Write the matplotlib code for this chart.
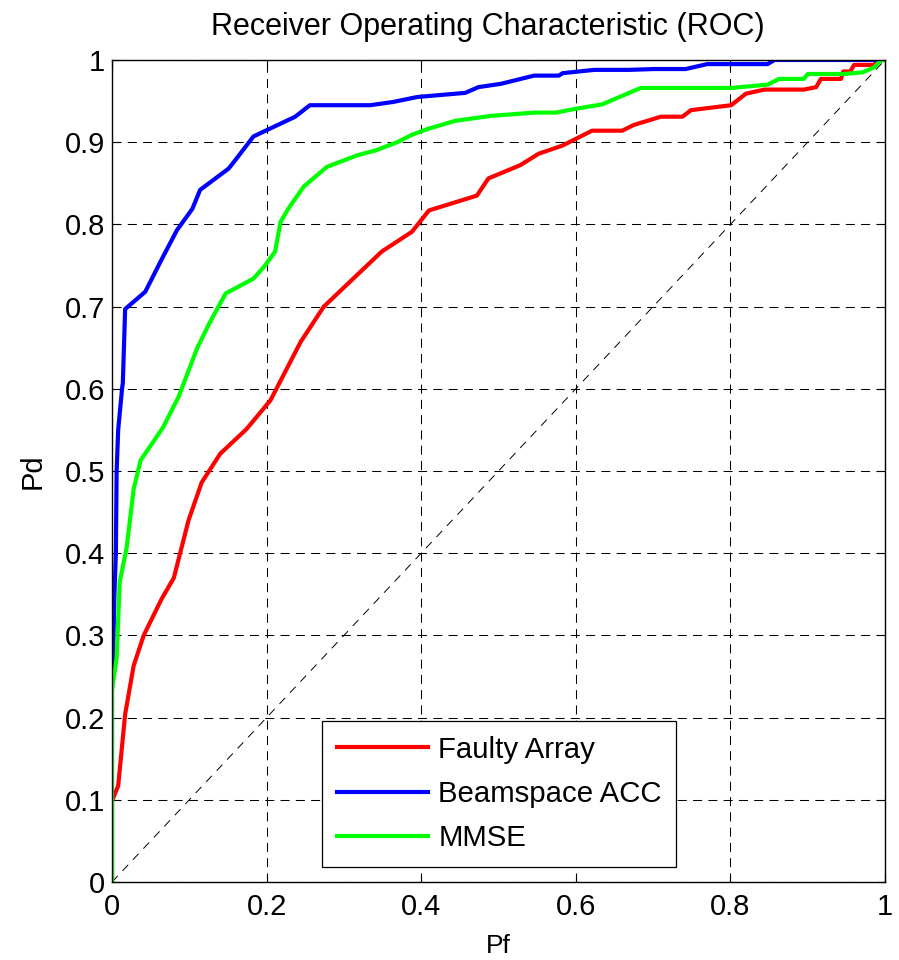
import numpy as np
import matplotlib
matplotlib.use("Agg")
import matplotlib.pyplot as plt

# ROC curves (Pf, Pd)
faulty_pf = [0, 0, 0.001, 0.008, 0.017, 0.028, 0.041, 0.064, 0.080, 0.099, 0.116, 0.140,
             0.174, 0.205, 0.244, 0.274, 0.349, 0.388, 0.410, 0.472, 0.487, 0.528, 0.552,
             0.583, 0.621, 0.660, 0.675, 0.710, 0.738, 0.749, 0.801, 0.820, 0.844, 0.895,
             0.911, 0.917, 0.943, 0.946, 0.955, 0.960, 0.985, 0.995, 1.0]
faulty_pd = [0, 0.10, 0.101, 0.117, 0.204, 0.263, 0.300, 0.344, 0.370, 0.440, 0.486, 0.521,
             0.551, 0.586, 0.657, 0.700, 0.767, 0.791, 0.817, 0.835, 0.856, 0.872, 0.886,
             0.896, 0.914, 0.914, 0.921, 0.931, 0.931, 0.939, 0.945, 0.959, 0.964, 0.964,
             0.967, 0.977, 0.977, 0.986, 0.986, 0.994, 0.994, 1.0, 1.0]

beam_pf = [0, 0, 0.002, 0.003, 0.005, 0.006, 0.008, 0.013, 0.014, 0.017, 0.043, 0.064,
           0.084, 0.104, 0.114, 0.151, 0.161, 0.183, 0.237, 0.256, 0.334, 0.364, 0.395,
           0.457, 0.474, 0.503, 0.546, 0.578, 0.583, 0.624, 0.669, 0.701, 0.742, 0.770,
           0.848, 0.857, 1.0]
beam_pd = [0, 0.24, 0.30, 0.346, 0.40, 0.50, 0.55, 0.60, 0.607, 0.697, 0.718, 0.757,
           0.793, 0.819, 0.842, 0.868, 0.880, 0.907, 0.931, 0.945, 0.945, 0.949, 0.955,
           0.960, 0.967, 0.971, 0.981, 0.981, 0.984, 0.988, 0.988, 0.989, 0.989, 0.995,
           0.995, 1.0, 1.0]

mmse_pf = [0, 0, 0.006, 0.010, 0.019, 0.028, 0.037, 0.066, 0.086, 0.110, 0.125, 0.147,
           0.183, 0.198, 0.211, 0.218, 0.228, 0.248, 0.278, 0.317, 0.341, 0.369, 0.388,
           0.408, 0.444, 0.490, 0.546, 0.574, 0.602, 0.634, 0.684, 0.801, 0.848, 0.863,
           0.895, 0.900, 0.947, 0.971, 0.986, 0.995, 1.0]
mmse_pd = [0, 0.233, 0.273, 0.365, 0.407, 0.478, 0.513, 0.553, 0.590, 0.649, 0.678, 0.716,
           0.734, 0.750, 0.767, 0.803, 0.819, 0.846, 0.870, 0.884, 0.890, 0.900, 0.909,
           0.916, 0.926, 0.932, 0.936, 0.936, 0.941, 0.946, 0.966, 0.966, 0.970, 0.977,
           0.977, 0.983, 0.983, 0.985, 0.991, 1.0, 1.0]

ticks = [0, 0.2, 0.4, 0.6, 0.8, 1]
yticks = [0, 0.1, 0.2, 0.3, 0.4, 0.5, 0.6, 0.7, 0.8, 0.9, 1]

plt.rcParams['font.family'] = ['Liberation Sans', 'DejaVu Sans']
plt.rcParams['lines.scale_dashes'] = False

fig = plt.figure(figsize=(8.99, 9.6), dpi=100)
ax = fig.add_axes([112 / 899, 1 - 882 / 960, 773 / 899, 822 / 960])

# chance line
ax.plot([0, 1], [0, 1], color='k', lw=0.7, linestyle=(0, (6, 5)))

ax.plot(faulty_pf, faulty_pd, color=(1, 0, 0), lw=3, label='Faulty Array')
ax.plot(beam_pf, beam_pd, color=(0, 0, 1), lw=3, label='Beamspace ACC')
ax.plot(mmse_pf, mmse_pd, color=(0, 1, 0), lw=3, label='MMSE')

ax.set_xlim(0, 1)
ax.set_ylim(0, 1)
ax.set_xticks(ticks)
ax.set_xticklabels(['0', '0.2', '0.4', '0.6', '0.8', '1'])
ax.set_yticks(yticks)
ax.set_yticklabels(['0', '0.1', '0.2', '0.3', '0.4', '0.5', '0.6', '0.7', '0.8', '0.9', '1'])
ax.grid(True, color='k', lw=0.75, linestyle=(0, (6.5, 4.5)))
ax.tick_params(direction='in', length=6, width=0.8, top=True, right=True, labelsize=21)
ax.tick_params(axis='x', pad=8)
ax.tick_params(axis='y', pad=5)
for s in ax.spines.values():
    s.set_linewidth(1.0)

ax.set_xlabel('Pf', fontsize=19, labelpad=9)
ax.set_ylabel('Pd', fontsize=21, labelpad=13)
ax.set_title('Receiver Operating Characteristic (ROC)', fontsize=22, pad=18, x=0.486)

leg = ax.legend(loc='lower left', bbox_to_anchor=(0.272, 0.018), borderaxespad=0,
                fontsize=21.2, handlelength=3.1, handletextpad=0.34, borderpad=0.5,
                labelspacing=0.56, fancybox=False, framealpha=1, edgecolor='k')
leg.get_frame().set_linewidth(0.9)

fig.savefig('out.png', dpi=100)
